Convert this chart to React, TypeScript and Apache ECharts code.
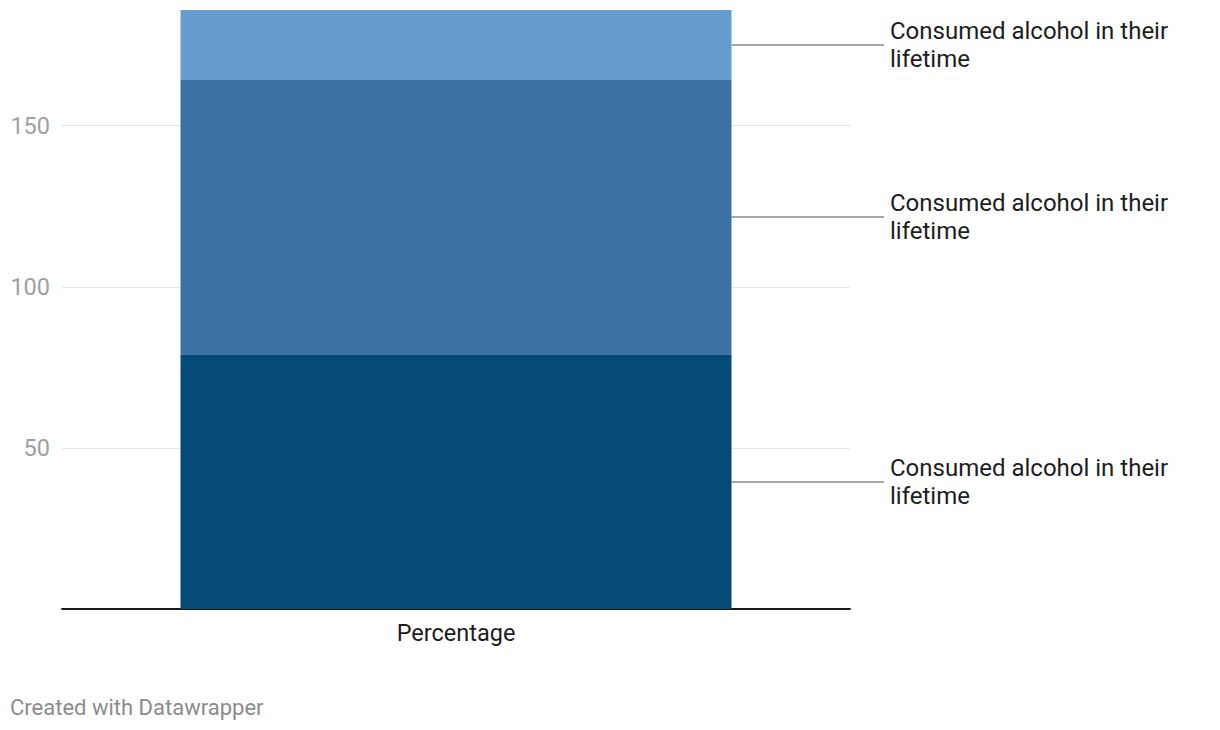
import React, { useEffect, useRef } from "react";
import * as echarts from "echarts";

const categories = ["Percentage"];
const segmentNames = [
  "Consumed alcohol in their lifetime",
  "Consumed alcohol in their lifetime",
  "Consumed alcohol in their lifetime",
];
const segmentValues = [79.1, 85.1, 21.7];
const segmentColors = ["#044b77", "#3c72a3", "#679cce"];
const labelLines = ["Consumed alcohol in their", "lifetime"];
const footerText = "Created with Datawrapper";

const FONT = "Roboto, 'Noto Sans', sans-serif";

export default function App() {
  const ref = useRef<HTMLDivElement>(null);

  useEffect(() => {
    if (!ref.current) return;
    const chart = echarts.init(ref.current, undefined, { renderer: "svg" });
    const total = segmentValues.reduce((a, b) => a + b, 0);
    const gridLeft = 62;
    const gridRight = 370;
    const barWidth = 551;

    const series = segmentValues.map((v, i) => ({
      name: segmentNames[i] + " " + i,
      type: "bar",
      stack: "total",
      data: [v],
      barWidth,
      itemStyle: { color: segmentColors[i] },
      emphasis: { disabled: true },
    }));

    chart.setOption({
      animation: false,
      textStyle: { fontFamily: FONT },
      grid: { left: gridLeft, right: gridRight, top: 10, bottom: 121, containLabel: false },
      xAxis: {
        type: "category",
        data: categories,
        axisTick: { show: false },
        axisLine: { show: true, lineStyle: { color: "#1a1a1a", width: 2 } },
        axisLabel: { color: "#1d1d1d", fontSize: 23.5, margin: 12, fontFamily: FONT },
      },
      yAxis: {
        type: "value",
        min: 0,
        max: total,
        interval: 50,
        axisLine: { show: false },
        axisTick: { show: false },
        axisLabel: {
          color: "#a0a0a0",
          fontSize: 23.5,
          margin: 12,
          fontFamily: FONT,
          showMinLabel: false,
          showMaxLabel: false,
          formatter: (v: number) => (v % 50 === 0 && v > 0 ? String(v) : ""),
        },
        splitLine: {
          show: true,
          showMinLine: false,
          showMaxLine: false,
          lineStyle: { color: "#e4e4e4", width: 1 },
        },
      },
      series,
    });

    const centerX = chart.convertToPixel({ xAxisIndex: 0 }, 0) as number;
    const barRight = centerX + barWidth / 2;
    const lineEnd = 884;
    const textX = 890;
    const graphics: any[] = [];
    let cum = 0;
    segmentValues.forEach((v) => {
      const mid = cum + v / 2;
      cum += v;
      const y = Math.round(chart.convertToPixel({ yAxisIndex: 0 }, mid) as number);
      graphics.push({
        type: "line",
        shape: { x1: barRight, y1: y, x2: lineEnd, y2: y },
        style: { stroke: "#8a8a8a", lineWidth: 1.5 },
        silent: true,
      });
      graphics.push({
        type: "text",
        x: textX,
        y: y,
        style: {
          text: labelLines.join("\n"),
          fill: "#1d1d1d",
          font: `24px ${FONT}`,
          lineHeight: 28,
          align: "left",
          verticalAlign: "middle",
        },
        silent: true,
      });
    });
    graphics.push({
      type: "text",
      x: 10,
      y: 707,
      style: {
        text: footerText,
        fill: "#8c8c8c",
        font: `22px ${FONT}`,
        align: "left",
        verticalAlign: "middle",
      },
      silent: true,
    });
    chart.setOption({ graphic: graphics });

    return () => chart.dispose();
  }, []);

  return (
    <div
      ref={ref}
      style={{ position: "absolute", left: 0, top: 0, width: 1220, height: 730, background: "#fff" }}
    />
  );
}
